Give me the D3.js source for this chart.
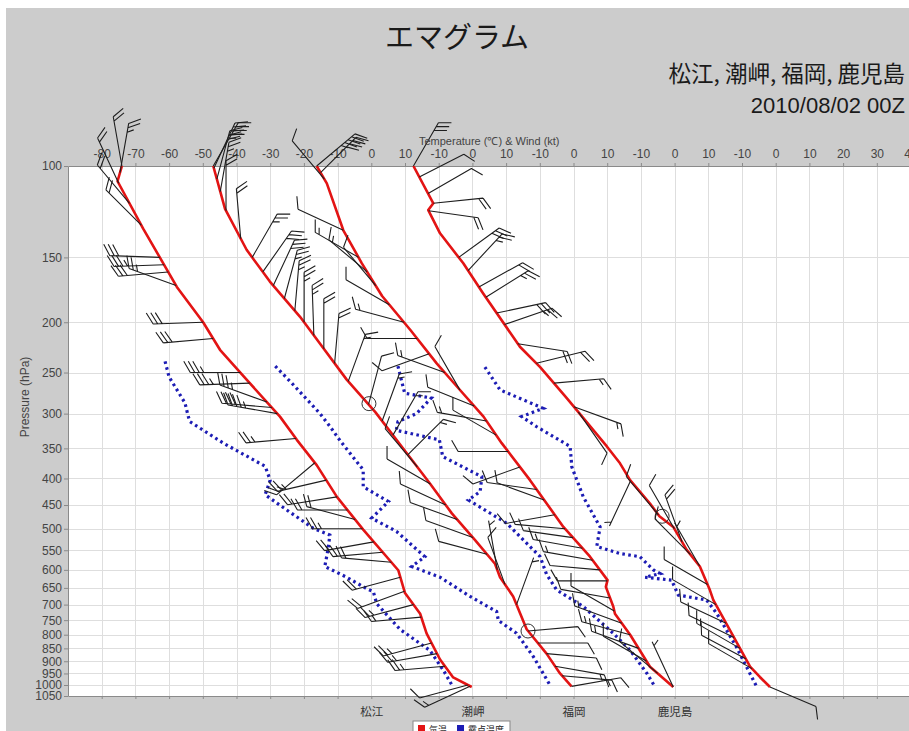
<!DOCTYPE html>
<html>
<head>
<meta charset="utf-8">
<script src="https://cdn.jsdelivr.net/npm/d3@7"></script>
<style>
  html, body { margin: 0; padding: 0; background: #ffffff; }
  svg { display: block; }
  .lat { font-family: "Liberation Sans", Arial, sans-serif; }
  .cjk { font-family: "Noto Sans CJK JP", "Noto Sans", sans-serif; }
</style>
</head>
<body>
<svg id="chart" width="909" height="731"></svg>
<script>
// ---- station names and the temperature offset (°C) each profile is shifted by
const stations = ["松江", "潮岬", "福岡", "鹿児島"];
const stationShift = [0, 30, 60, 90];

// ---- pressure axis ticks (hPa)
const pressureTicks = [100, 150, 200, 250, 300, 350, 400, 450, 500, 550, 600, 650, 700, 750, 800, 850, 900, 950, 1000, 1050];

// ---- shared temperature axis: grid positions and the labels printed on them
const tempTickPositions = [-80, -70, -60, -50, -40, -30, -20, -10, 0, 10, 20, 30, 40, 50, 60, 70, 80, 90, 100, 110, 120, 130, 140, 150, 160];
const tempTickLabels = ["-80", "-70", "-60", "-50", "-40", "-30", "-20", "-10", "0", "10", "-10", "0", "10", "-10", "0", "10", "-10", "0", "10", "-10", "0", "10", "20", "30", "40"];

// ---- temperature profiles [pressure hPa, °C]
const matsueTemp = [[100, -74], [107, -75.3], [132, -67.7], [171, -57.7], [200, -49.9], [226, -44.9], [258, -37], [304, -27.1], [337, -22.1], [377, -16.2], [434, -10.2], [502, -2.4], [601, 8.0], [665, 10.0], [729, 14.5], [795, 16.4], [893, 20.4], [967, 24.3], [1009, 29.8]];
const shionomisakiTemp = [[100, -76.9], [121, -73.4], [145, -67], [167, -60.1], [195, -51.2], [220, -45.2], [258, -37.3], [298, -28.8], [347, -21], [409, -12.6], [467, -6.1], [526, 0.8], [584, 6.7], [620, 8.2], [675, 12.1], [781, 16.1], [870, 22], [950, 26], [1006, 29.4]];
const fukuokaTemp = [[100, -76.2], [108, -73.2], [133, -68.3], [154, -62.8], [178, -56.8], [207, -48.4], [240, -40.6], [266, -34.6], [304, -26.7], [342, -21.3], [403, -12.9], [496, -3.0], [566, 4.9], [628, 10.1], [647, 9.6], [706, 11.8], [729, 12.3], [800, 16.8], [922, 22.7], [1009, 29.6]];
const kagoshimaTemp = [[100, -77.5], [118, -71.6], [121.6, -73.1], [134.8, -69.6], [154, -62.7], [176, -56.8], [223, -45.9], [244, -39.9], [280, -32], [347, -20.1], [374, -16.2], [403, -13.2], [447, -7.3], [473, -4.5], [496, -0.4], [549, 3.6], [591, 7.5], [657, 10.5], [686, 11.5], [922, 22.4], [965, 25.3], [1009, 28.3]];

// ---- dew point profiles [pressure hPa, °C]
const matsueDew = [[238, -61.2], [255, -60], [286, -55.3], [304, -54.3], [311, -53.8], [342, -43.9], [379, -31.5], [403, -30], [430, -31.5], [460, -25.1], [499, -17.2], [514, -12.3], [546, -12.8], [591, -13.8], [620, -7.3], [652, -1.4], [661, 0.6], [697, 1.6], [781, 8.5], [858, 17.4], [937, 21.4], [1000, 23.9]];
const shionomisakiDew = [[243, -58.5], [262, -53.6], [300, -45.2], [318, -42.2], [340, -39], [385, -32.4], [415, -32.4], [443, -24.9], [477, -29.9], [506, -22.5], [566, -14.1], [591, -18], [620, -9.6], [675, -0.7], [722, 7.2], [751, 7.7], [795, 13.1], [882, 18.1], [1000, 23]];
const fukuokaDew = [[243, -52.1], [274, -50.1], [280, -42.2], [300, -46.6], [311, -52.1], [323, -52.6], [337, -39.8], [363, -38.8], [397, -27.2], [424, -27.7], [440, -31.2], [488, -19.8], [566, -9.9], [612, -8], [656, -5], [706, 2.9], [795, 11.8], [857, 16.8], [950, 21.8], [1009, 24.2]];
const kagoshimaDew = [[244, -56.3], [270, -51.8], [293, -39], [304, -45.4], [318, -40.9], [347, -31], [380, -30.5], [434, -27.1], [496, -22.1], [541, -23.1], [558, -16.2], [566, -10.3], [600, -6.3], [610, -4.3], [620, -8.8], [628, -0.9], [671, 1.1], [686, 9.5], [728, 12.5], [846, 18.4], [1009, 24.4]];

// ---- winds [pressure hPa, direction deg, speed kt]
const matsueWind = [[100, 350, 20], [103, 10, 25], [108, 335, 20], [118, 320, 20], [130, 315, 20], [150, 272, 30], [155, 268, 35], [160, 265, 30], [170, 290, 25], [200, 268, 30], [215, 265, 30], [250, 270, 35], [262, 268, 35], [285, 290, 35], [292, 275, 40], [300, 280, 45], [335, 265, 25], [373, 230, 25], [403, 257, 25], [434, 261, 20], [460, 270, 20], [480, 285, 20], [500, 270, 25], [530, 260, 20], [555, 265, 20], [580, 275, 20], [620, 255, 20], [660, 250, 20], [700, 255, 25], [740, 265, 15], [830, 255, 25], [870, 260, 25], [920, 265, 25], [1000, 255, 10], [1005, 245, 15]];
const shionomisakiWind = [[100, 30, 45], [101, 25, 40], [106, 15, 30], [112, 10, 25], [122, 0, 20], [138, 355, 20], [150, 30, 25], [160, 35, 30], [170, 25, 30], [180, 15, 25], [190, 5, 25], [200, 0, 25], [212, 358, 25], [225, 0, 20], [240, 5, 20], [260, 20, 15], [288, 15, 10], [310, 20, 15], [330, 30, 15], [360, 45, 15], [380, 320, 10], [410, 300, 10], [450, 295, 10], [480, 290, 10], [520, 290, 10], [560, 285, 10], [600, 350, 5], [640, 340, 10], [700, 20, 5], [787, 85, 10], [830, 90, 10], [870, 95, 10], [920, 100, 15], [960, 95, 15], [1006, 80, 10]];
const fukuokaWind = [[100, 50, 45], [103, 45, 40], [106, 320, 10], [133, 295, 10], [150, 300, 15], [160, 310, 15], [170, 320, 10], [185, 300, 10], [200, 285, 15], [215, 270, 10], [230, 250, 10], [250, 290, 15], [270, 330, 10], [290, 292, 10], [310, 280, 15], [330, 300, 10], [355, 270, 10], [380, 250, 10], [420, 278, 10], [440, 290, 10], [470, 260, 10], [500, 275, 10], [520, 278, 10], [545, 280, 15], [575, 280, 15], [600, 275, 10], [630, 270, 10], [680, 280, 10], [720, 300, 10], [760, 290, 15], [800, 285, 15], [850, 290, 15], [900, 300, 10], [950, 310, 10], [1009, 335, 5]];
const kagoshimaWind = [[100, 30, 30], [105, 63, 10], [113, 60, 10], [118, 84, 20], [122, 98, 20], [150, 54, 30], [159, 43, 25], [171, 61, 20], [179, 58, 25], [192, 78, 30], [202, 71, 25], [220, 99, 20], [240, 76, 20], [262, 85, 15], [291, 110, 15], [298, 145, 10], [404, 205, 5], [470, 320, 10], [500, 330, 10], [530, 340, 20], [560, 315, 10], [590, 330, 5], [640, 300, 10], [700, 300, 10], [760, 295, 10], [810, 296, 10], [850, 300, 15], [890, 298, 10], [930, 300, 10], [1009, 113, 10]];

// ---- marked points [station index, pressure hPa, °C]
const markedPoints = [[1, 287, -30.7], [1, 787, 16.5], [3, 473, -3.7]];

// ---- legend
const legendItems = [["気温", "#e31414"], ["露点温度", "#1c1cb4"]];

const tempProfiles = [matsueTemp, shionomisakiTemp, fukuokaTemp, kagoshimaTemp];
const dewProfiles = [matsueDew, shionomisakiDew, fukuokaDew, kagoshimaDew];
const windProfiles = [matsueWind, shionomisakiWind, fukuokaWind, kagoshimaWind];

const svg = d3.select("#chart");
const W = 909, H = 731;
const plot = { left: 68, top: 166, right: 910.5, bottom: 696 };

// background panel
svg.append("rect").attr("x", 6).attr("y", 8).attr("width", W - 6).attr("height", H - 8).attr("fill", "#cccccc");

const x = d3.scaleLinear().domain([-90, 160]).range([plot.left, plot.right]);
const y = d3.scaleLog().domain([100, 1050]).range([plot.top, plot.bottom]);

// plot area
svg.append("rect").attr("x", plot.left).attr("y", plot.top)
  .attr("width", plot.right - plot.left).attr("height", plot.bottom - plot.top).attr("fill", "#ffffff");

svg.append("clipPath").attr("id", "plotClip").append("rect")
  .attr("x", plot.left).attr("y", plot.top)
  .attr("width", plot.right - plot.left).attr("height", plot.bottom - plot.top);

// grid
const grid = svg.append("g").attr("stroke", "#dedede").attr("stroke-width", 1);
grid.selectAll("line.v").data(tempTickPositions).join("line")
  .attr("x1", d => Math.round(x(d)) + 0.5).attr("x2", d => Math.round(x(d)) + 0.5)
  .attr("y1", plot.top).attr("y2", plot.bottom);
grid.selectAll("line.h").data(pressureTicks).join("line")
  .attr("y1", d => Math.round(y(d)) + 0.5).attr("y2", d => Math.round(y(d)) + 0.5)
  .attr("x1", plot.left).attr("x2", plot.right);

// axes
const axisColor = "#8a8a8a";
const topAxis = svg.append("g").attr("class", "lat").attr("transform", `translate(0,${plot.top})`)
  .call(d3.axisTop(x).tickValues(tempTickPositions).tickFormat((d, i) => tempTickLabels[i]).tickSize(3).tickSizeOuter(0));
const leftAxis = svg.append("g").attr("class", "lat").attr("transform", `translate(${plot.left},0)`)
  .call(d3.axisLeft(y).tickValues(pressureTicks).tickFormat(d3.format("d")).tickSize(4).tickSizeOuter(0));
const bottomAxis = svg.append("g").attr("transform", `translate(0,${plot.bottom})`)
  .call(d3.axisBottom(x).tickValues(tempTickPositions).tickFormat("").tickSize(3).tickSizeOuter(0));
const stationAxis = svg.append("g").attr("class", "cjk").attr("transform", `translate(0,${plot.bottom})`)
  .call(d3.axisBottom(x).tickValues(stationShift).tickFormat((d, i) => stations[i]).tickSize(0));
stationAxis.select(".domain").remove();
[topAxis, leftAxis, bottomAxis].forEach(g => {
  g.select(".domain").attr("stroke", axisColor);
  g.selectAll(".tick line").attr("stroke", axisColor);
});
topAxis.selectAll(".tick text").attr("font-size", 12).attr("fill", "#444").attr("dy", "-0.2em");
leftAxis.selectAll(".tick text").attr("font-size", 12).attr("fill", "#444").attr("x", -6);
stationAxis.selectAll(".tick text").attr("font-size", 11.5).attr("fill", "#333").attr("dy", "1.45em");

// interpolate a profile in log-pressure
function tempAt(profile, p) {
  if (p <= profile[0][0]) return profile[0][1];
  for (let i = 0; i < profile.length - 1; i++) {
    const [p0, t0] = profile[i], [p1, t1] = profile[i + 1];
    if (p >= p0 && p <= p1) {
      const f = (Math.log(p) - Math.log(p0)) / (Math.log(p1) - Math.log(p0));
      return t0 + f * (t1 - t0);
    }
  }
  return profile[profile.length - 1][1];
}

const curves = svg.append("g").attr("clip-path", "url(#plotClip)");

// dew point (dotted)
dewProfiles.forEach((prof, k) => {
  const line = d3.line().x(d => x(d[1] + stationShift[k])).y(d => y(d[0]));
  curves.append("path").datum(prof).attr("d", line)
    .attr("fill", "none").attr("stroke", legendItems[1][1]).attr("stroke-width", 3.2)
    .attr("stroke-dasharray", "2.6,3.4");
});

// temperature
tempProfiles.forEach((prof, k) => {
  const line = d3.line().x(d => x(d[1] + stationShift[k])).y(d => y(d[0]));
  curves.append("path").datum(prof).attr("d", line)
    .attr("fill", "none").attr("stroke", legendItems[0][1]).attr("stroke-width", 2.6)
    .attr("stroke-linejoin", "round");
});

// marked points
svg.append("g").selectAll("circle").data(markedPoints).join("circle")
  .attr("cx", d => x(d[2] + stationShift[d[0]])).attr("cy", d => y(d[1])).attr("r", 7)
  .attr("fill", "none").attr("stroke", "#333").attr("stroke-width", 1);

// wind barbs: staff points toward the direction the wind comes from
const staffLen = 50, fullLen = 13, halfLen = 7, featherGap = 4.5;
const rot = Math.PI / 3;
function barbPath(ax, ay, dir, spd) {
  const r = dir * Math.PI / 180;
  const ux = Math.sin(r), uy = -Math.cos(r);
  const tx = ax + staffLen * ux, ty = ay + staffLen * uy;
  const fx = ux * Math.cos(rot) - uy * Math.sin(rot);
  const fy = ux * Math.sin(rot) + uy * Math.cos(rot);
  let s = `M${ax},${ay}L${tx},${ty}`;
  let n10 = Math.floor(spd / 10), n5 = (spd % 10) >= 5 ? 1 : 0;
  let k = 0;
  for (let i = 0; i < n10; i++, k++) {
    const px = tx - k * featherGap * ux, py = ty - k * featherGap * uy;
    s += `M${px},${py}l${fx * fullLen},${fy * fullLen}`;
  }
  if (n5) {
    if (k === 0) k = 1;
    const px = tx - k * featherGap * ux, py = ty - k * featherGap * uy;
    s += `M${px},${py}l${fx * halfLen},${fy * halfLen}`;
  }
  return s;
}
const barbs = svg.append("g").attr("fill", "none").attr("stroke", "#1e1e1e").attr("stroke-width", 1.1);
windProfiles.forEach((winds, k) => {
  barbs.selectAll(null).data(winds).join("path")
    .attr("d", d => {
      const t = tempAt(tempProfiles[k], d[0]);
      return barbPath(x(t + stationShift[k]), y(d[0]), d[1], d[2]);
    });
});

// titles
svg.append("text").attr("class", "cjk").attr("x", 457).attr("y", 48).attr("text-anchor", "middle")
  .attr("font-size", 29).attr("fill", "#1a1a1a").text("エマグラム");
svg.append("text").attr("class", "cjk").attr("x", 905).attr("y", 82).attr("text-anchor", "end")
  .attr("font-size", 22.5).attr("fill", "#1a1a1a").text(stations.join(", "));
svg.append("text").attr("class", "lat").attr("x", 905).attr("y", 113).attr("text-anchor", "end")
  .attr("font-size", 22).attr("fill", "#1a1a1a").text("2010/08/02 00Z");

// axis titles
svg.append("text").attr("class", "lat").attr("x", (plot.left + plot.right) / 2).attr("y", 145)
  .attr("text-anchor", "middle").attr("font-size", 11).attr("fill", "#444").text("Temperature (℃) & Wind (kt)");
svg.append("text").attr("class", "lat").attr("transform", "translate(29,397) rotate(-90)")
  .attr("text-anchor", "middle").attr("font-size", 12).attr("fill", "#444").text("Pressure (hPa)");

// legend
const lg = svg.append("g").attr("transform", "translate(413,721)");
lg.append("rect").attr("width", 97).attr("height", 16).attr("fill", "#ffffff").attr("stroke", "#888");
let lx = 5;
legendItems.forEach(([label, color]) => {
  lg.append("rect").attr("x", lx).attr("y", 4).attr("width", 7).attr("height", 7).attr("fill", color);
  const t = lg.append("text").attr("class", "cjk").attr("x", lx + 11).attr("y", 11.5)
    .attr("font-size", 9).attr("fill", "#222").text(label);
  lx += 11 + t.node().getComputedTextLength() + 10;
});
</script>
</body>
</html>
